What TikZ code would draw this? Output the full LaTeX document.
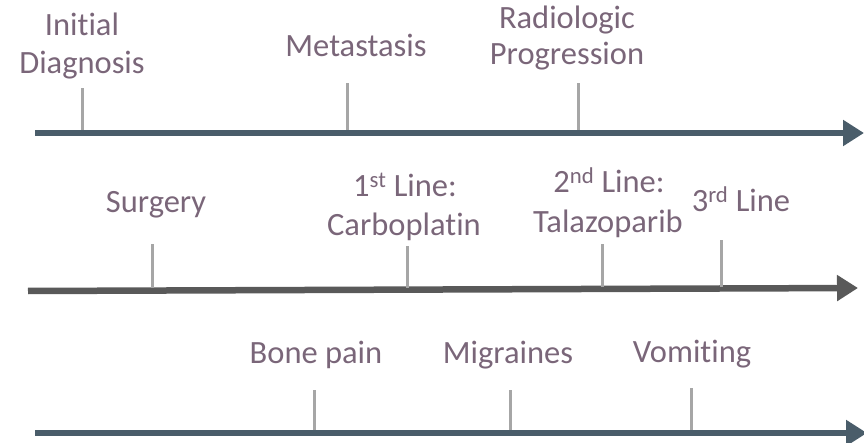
\documentclass[tikz,border=0pt]{standalone}
\usepackage{fontspec}
\setmainfont{Carlito}[Ligatures=CommonOff]
\usetikzlibrary{arrows.meta}
\definecolor{labelc}{HTML}{7A6679}
\definecolor{axisa}{HTML}{4A5D6A}
\definecolor{axisb}{HTML}{595959}
\definecolor{tickc}{HTML}{A6A6A6}
\tikzset{
  lbl/.style={anchor=base, text=labelc, inner sep=0pt, font=\fontsize{32.5}{38}\selectfont},
  axisline/.style={line width=6.5pt, -{Triangle[length=21pt,width=25pt]}},
  tickline/.style={draw=tickc, line width=3pt}
}
\begin{document}
\begin{tikzpicture}[x=1pt,y=1pt]
\useasboundingbox (0,0) rectangle (864,442);
% axis 1
\coordinate (a1s) at (35,309);
\coordinate (a1e) at (864,309);
\draw[axisline, draw=axisa, fill=axisa] (a1s) -- (a1e);
\coordinate (t1a) at (82,312); \coordinate (t1b) at (82,354);
\coordinate (t2a) at (347,312); \coordinate (t2b) at (347,359);
\coordinate (t3a) at (578,312); \coordinate (t3b) at (578,359);
\draw[tickline] (t1a) -- (t1b);
\draw[tickline] (t2a) -- (t2b);
\draw[tickline] (t3a) -- (t3b);
\node[lbl] (id1) at (82,406) {Initial};
\node[lbl] (id2) at (82,368) {Diagnosis};
\node[lbl] (meta) at (356,385) {Metastasis};
\node[lbl] (rp1) at (567,413) {Radiologic};
\node[lbl] (rp2) at (567,377) {Progression};
% axis 2
\coordinate (a2s) at (28,151);
\coordinate (a2e) at (858,154);
\draw[axisline, draw=axisb, fill=axisb] (a2s) -- (a2e);
\coordinate (s1a) at (152,154); \coordinate (s1b) at (152,198);
\coordinate (s2a) at (407,154); \coordinate (s2b) at (407,196);
\coordinate (s3a) at (602,155); \coordinate (s3b) at (602,198);
\coordinate (s4a) at (721,155); \coordinate (s4b) at (721,202);
\draw[tickline] (s1a) -- (s1b);
\draw[tickline] (s2a) -- (s2b);
\draw[tickline] (s3a) -- (s3b);
\draw[tickline] (s4a) -- (s4b);
\node[lbl] (surg) at (156,229) {Surgery};
\node[lbl] (l1a) at (405,245) {1\textsuperscript{st} Line:};
\node[lbl] (l1b) at (404,206) {Carboplatin};
\node[lbl] (l2a) at (609,249) {2\textsuperscript{nd} Line:};
\node[lbl] (l2b) at (608,209) {Talazoparib};
\node[lbl] (l3) at (741,230) {3\textsuperscript{rd} Line};
% axis 3
\coordinate (a3s) at (35,9);
\coordinate (a3e) at (867,9);
\draw[axisline, draw=axisa, fill=axisa] (a3s) -- (a3e);
\coordinate (b1a) at (314,12); \coordinate (b1b) at (314,52);
\coordinate (b2a) at (510,12); \coordinate (b2b) at (510,52);
\coordinate (b3a) at (691,12); \coordinate (b3b) at (691,54);
\draw[tickline] (b1a) -- (b1b);
\draw[tickline] (b2a) -- (b2b);
\draw[tickline] (b3a) -- (b3b);
\node[lbl] (bone) at (316,79) {Bone pain};
\node[lbl] (migr) at (508,79) {Migraines};
\node[lbl] (vomi) at (692,80) {Vomiting};
\end{tikzpicture}
\end{document}
